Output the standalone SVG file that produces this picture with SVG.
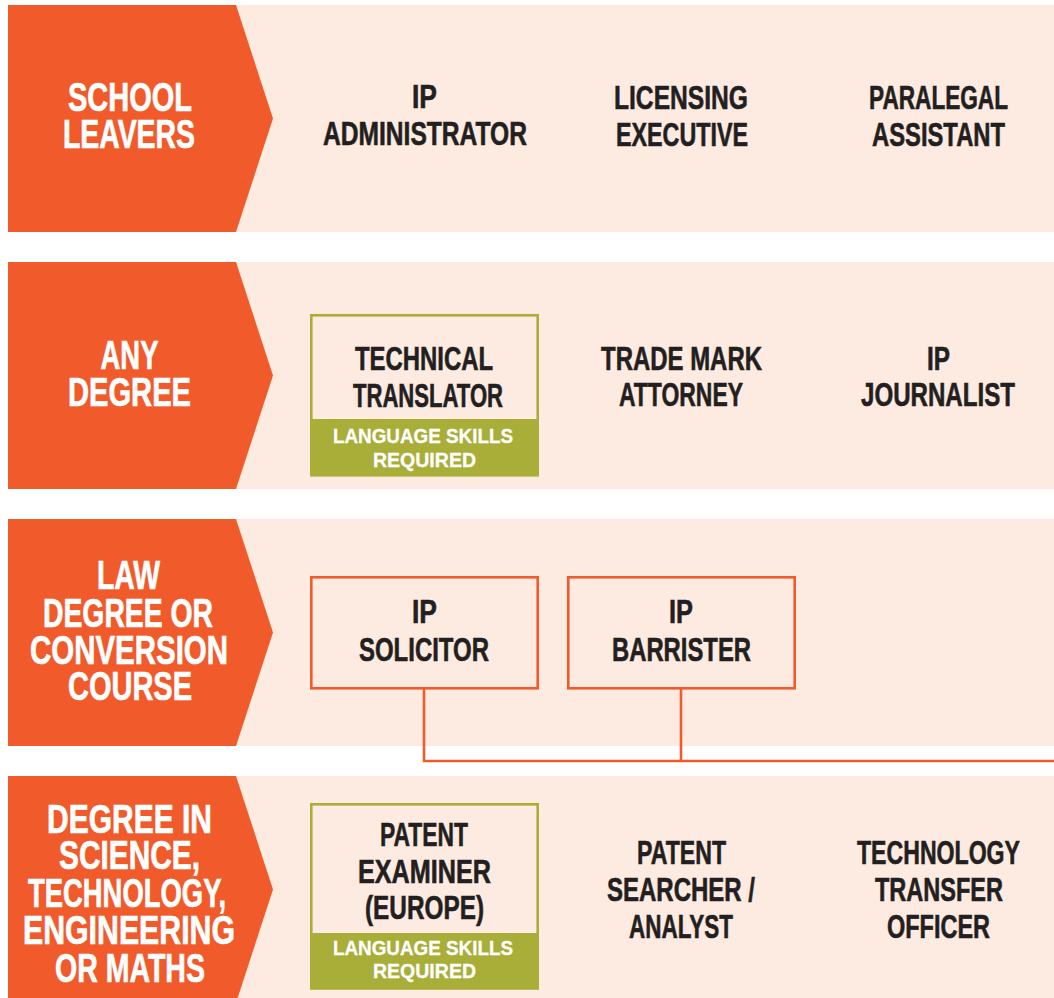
<svg xmlns="http://www.w3.org/2000/svg" width="1054" height="998" viewBox="0 0 1054 998">
  <style>
    .band { fill: #fdebe1; }
    .arrow { fill: #f15a2b; }
    .lbl { fill: #ffffff; stroke: #ffffff; stroke-width: 0.7; font-family: "Liberation Sans", Arial, sans-serif; font-weight: bold; font-size: 41px; text-anchor: middle; }
    .job { fill: #231f20; stroke: #231f20; stroke-width: 0.6; font-family: "Liberation Sans", Arial, sans-serif; font-weight: bold; font-size: 33px; text-anchor: middle; }
    .tag { fill: #ffffff; stroke: #ffffff; stroke-width: 0.3; font-family: "Liberation Sans", Arial, sans-serif; font-weight: bold; font-size: 21px; text-anchor: middle; }
    .obox { fill: #fdebe1; stroke: #f15a2b; stroke-width: 2.6; }
    .gbox { fill: #fdebe1; stroke: #a9ae38; stroke-width: 2.6; }
    .gfill { fill: #a9ae38; }
    .link { fill: none; stroke: #f15a2b; stroke-width: 2.6; }
  </style>
  <rect x="0" y="0" width="1054" height="998" fill="#ffffff"/>

  <!-- row 1: school leavers -->
  <g id="row-school-leavers">
    <rect class="band" x="8" y="5" width="1046" height="227"/>
    <polygon class="arrow" points="8,5 236,5 273,118.5 236,232 8,232"/>
    <text class="lbl" x="130" y="111" textLength="124" lengthAdjust="spacingAndGlyphs">SCHOOL</text>
    <text class="lbl" x="129" y="148" textLength="132" lengthAdjust="spacingAndGlyphs">LEAVERS</text>
  </g>
  <g id="ip-administrator">
    <text class="job" x="424.5" y="108" textLength="25" lengthAdjust="spacingAndGlyphs">IP</text>
    <text class="job" x="425" y="145" textLength="204" lengthAdjust="spacingAndGlyphs">ADMINISTRATOR</text>
  </g>
  <g id="licensing-executive">
    <text class="job" x="681" y="109" textLength="134" lengthAdjust="spacingAndGlyphs">LICENSING</text>
    <text class="job" x="682" y="146" textLength="132" lengthAdjust="spacingAndGlyphs">EXECUTIVE</text>
  </g>
  <g id="paralegal-assistant">
    <text class="job" x="938.5" y="109" textLength="139" lengthAdjust="spacingAndGlyphs">PARALEGAL</text>
    <text class="job" x="938.5" y="146" textLength="133" lengthAdjust="spacingAndGlyphs">ASSISTANT</text>
  </g>

  <!-- row 2: any degree -->
  <g id="row-any-degree">
    <rect class="band" x="8" y="262" width="1046" height="227"/>
    <polygon class="arrow" points="8,262 236,262 273,375.5 236,489 8,489"/>
    <text class="lbl" x="129.5" y="369" textLength="58" lengthAdjust="spacingAndGlyphs">ANY</text>
    <text class="lbl" x="129.5" y="406" textLength="123" lengthAdjust="spacingAndGlyphs">DEGREE</text>
  </g>
  <g id="technical-translator">
    <rect class="gbox" x="311.3" y="315.3" width="226.4" height="160"/>
    <rect class="gfill" x="310" y="419" width="229" height="57"/>
    <text class="job" x="424" y="370" textLength="138" lengthAdjust="spacingAndGlyphs">TECHNICAL</text>
    <text class="job" x="428" y="407" textLength="150" lengthAdjust="spacingAndGlyphs">TRANSLATOR</text>
    <text class="tag" x="423" y="443" textLength="180" lengthAdjust="spacingAndGlyphs">LANGUAGE SKILLS</text>
    <text class="tag" x="424.5" y="467" textLength="103" lengthAdjust="spacingAndGlyphs">REQUIRED</text>
  </g>
  <g id="trade-mark-attorney">
    <text class="job" x="681.5" y="370" textLength="161" lengthAdjust="spacingAndGlyphs">TRADE MARK</text>
    <text class="job" x="681" y="406" textLength="124" lengthAdjust="spacingAndGlyphs">ATTORNEY</text>
  </g>
  <g id="ip-journalist">
    <text class="job" x="938.5" y="370" textLength="23" lengthAdjust="spacingAndGlyphs">IP</text>
    <text class="job" x="938" y="406" textLength="154" lengthAdjust="spacingAndGlyphs">JOURNALIST</text>
  </g>

  <!-- row 3: law degree or conversion course -->
  <g id="row-law">
    <rect class="band" x="8" y="519" width="1046" height="227"/>
    <polygon class="arrow" points="8,519 236,519 273,632.5 236,746 8,746"/>
    <text class="lbl" x="128.5" y="589" textLength="63" lengthAdjust="spacingAndGlyphs">LAW</text>
    <text class="lbl" x="128" y="627" textLength="170" lengthAdjust="spacingAndGlyphs">DEGREE OR</text>
    <text class="lbl" x="129" y="664" textLength="198" lengthAdjust="spacingAndGlyphs">CONVERSION</text>
    <text class="lbl" x="130" y="700" textLength="124" lengthAdjust="spacingAndGlyphs">COURSE</text>
  </g>

  <!-- connectors joining the two legal roles -->
  <g id="connectors">
    <path class="link" d="M424,689 V761 H1054"/>
    <path class="link" d="M681,689 V761"/>
  </g>

  <g id="ip-solicitor">
    <rect class="obox" x="311.3" y="577.3" width="226.4" height="111"/>
    <text class="job" x="424.5" y="623" textLength="25" lengthAdjust="spacingAndGlyphs">IP</text>
    <text class="job" x="424" y="661" textLength="130" lengthAdjust="spacingAndGlyphs">SOLICITOR</text>
  </g>
  <g id="ip-barrister">
    <rect class="obox" x="568.3" y="577.3" width="226.4" height="111"/>
    <text class="job" x="681" y="623" textLength="24" lengthAdjust="spacingAndGlyphs">IP</text>
    <text class="job" x="681.5" y="661" textLength="139" lengthAdjust="spacingAndGlyphs">BARRISTER</text>
  </g>

  <!-- row 4: science, technology, engineering or maths -->
  <g id="row-stem">
    <rect class="band" x="8" y="776" width="1046" height="227"/>
    <polygon class="arrow" points="8,776 236,776 273,889.5 236,1003 8,1003"/>
    <text class="lbl" x="129.5" y="833" textLength="165" lengthAdjust="spacingAndGlyphs">DEGREE IN</text>
    <text class="lbl" x="129.5" y="869" textLength="141" lengthAdjust="spacingAndGlyphs">SCIENCE,</text>
    <text class="lbl" x="127" y="907" textLength="198" lengthAdjust="spacingAndGlyphs">TECHNOLOGY,</text>
    <text class="lbl" x="129" y="944" textLength="212" lengthAdjust="spacingAndGlyphs">ENGINEERING</text>
    <text class="lbl" x="130" y="982" textLength="150" lengthAdjust="spacingAndGlyphs">OR MATHS</text>
  </g>
  <g id="patent-examiner">
    <rect class="gbox" x="311.3" y="804.3" width="226.4" height="184"/>
    <rect class="gfill" x="310" y="933" width="229" height="56.5"/>
    <text class="job" x="424" y="846" textLength="88" lengthAdjust="spacingAndGlyphs">PATENT</text>
    <text class="job" x="424.5" y="883" textLength="133" lengthAdjust="spacingAndGlyphs">EXAMINER</text>
    <text class="job" x="424.5" y="919" textLength="119" lengthAdjust="spacingAndGlyphs">(EUROPE)</text>
    <text class="tag" x="423" y="955" textLength="180" lengthAdjust="spacingAndGlyphs">LANGUAGE SKILLS</text>
    <text class="tag" x="424.5" y="978" textLength="103" lengthAdjust="spacingAndGlyphs">REQUIRED</text>
  </g>
  <g id="patent-searcher">
    <text class="job" x="681.5" y="864" textLength="89" lengthAdjust="spacingAndGlyphs">PATENT</text>
    <text class="job" x="681" y="901" textLength="148" lengthAdjust="spacingAndGlyphs">SEARCHER /</text>
    <text class="job" x="681" y="938" textLength="104" lengthAdjust="spacingAndGlyphs">ANALYST</text>
  </g>
  <g id="technology-transfer-officer">
    <text class="job" x="938.5" y="864" textLength="163" lengthAdjust="spacingAndGlyphs">TECHNOLOGY</text>
    <text class="job" x="939" y="901" textLength="128" lengthAdjust="spacingAndGlyphs">TRANSFER</text>
    <text class="job" x="938.5" y="938" textLength="103" lengthAdjust="spacingAndGlyphs">OFFICER</text>
  </g>
</svg>
